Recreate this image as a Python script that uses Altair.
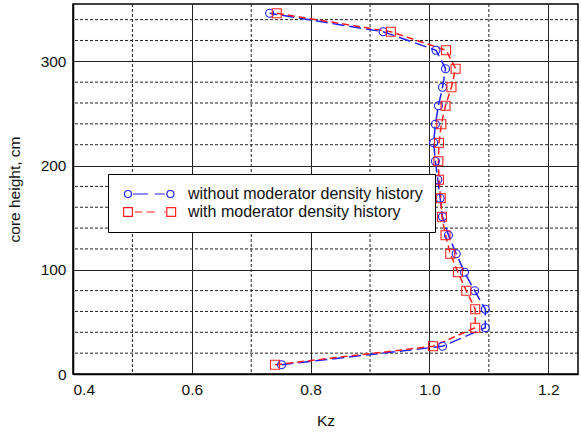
import altair as alt
import pandas as pd

# ---- data ----
heights = [8.9, 26.6, 44.4, 62.1, 79.9, 97.6, 115.4, 133.1, 150.9, 168.6,
           186.4, 204.1, 221.9, 239.6, 257.4, 275.1, 292.9, 310.6, 328.4, 346.1]
kz_without = [0.751, 1.022, 1.094, 1.094, 1.076, 1.059, 1.045, 1.032, 1.022, 1.018,
              1.014, 1.010, 1.007, 1.010, 1.015, 1.022, 1.027, 1.011, 0.922, 0.731]
kz_with = [0.740, 1.006, 1.077, 1.077, 1.062, 1.048, 1.035, 1.027, 1.021, 1.019,
           1.016, 1.015, 1.016, 1.020, 1.027, 1.037, 1.044, 1.028, 0.935, 0.743]
series_names = ["without moderator density history", "with moderator density history"]
series_colors = ["#1f1fff", "#ff2020"]

x_major = [0.4, 0.6, 0.8, 1.0, 1.2]
x_minor = [0.5, 0.7, 0.9, 1.1]
y_major = [0, 100, 200, 300]
y_minor = [20, 40, 60, 80, 120, 140, 160, 180, 220, 240, 260, 280, 320, 340]

FONT = "Liberation Sans"

rows = []
for h, a, b in zip(heights, kz_without, kz_with):
    rows.append({"height": h, "kz": a, "series": series_names[0]})
    rows.append({"height": h, "kz": b, "series": series_names[1]})
df = pd.DataFrame(rows)

xscale = alt.Scale(domain=[0.4, 1.25], nice=False, zero=False)
yscale = alt.Scale(domain=[0, 355], nice=False, zero=False)

xenc = alt.X("kz:Q", scale=xscale,
             axis=alt.Axis(values=x_major, format=".1f", title="Kz", grid=True,
                           gridColor="#222222", gridWidth=1, tickSize=0,
                           labelPadding=8, titlePadding=16))
yenc = alt.Y("height:Q", scale=yscale,
             axis=alt.Axis(values=y_major, title="core height, cm", grid=True,
                           gridColor="#222222", gridWidth=1, tickSize=0,
                           labelPadding=7, titlePadding=18))

# minor dashed grid lines
xminor_df = pd.DataFrame({"kz": x_minor})
yminor_df = pd.DataFrame({"height": y_minor})
xgrid = alt.Chart(xminor_df).mark_rule(color="#222222", strokeWidth=1, strokeDash=[3, 2]).encode(
    x=alt.X("kz:Q", scale=xscale))
ygrid = alt.Chart(yminor_df).mark_rule(color="#222222", strokeWidth=1, strokeDash=[3, 2]).encode(
    y=alt.Y("height:Q", scale=yscale))

dashes = [[12, 5], [7, 4]]
shapes = ["circle", "square"]
sizes = [64, 81]

layers = [xgrid, ygrid]
for name, col, dash in zip(series_names, series_colors, dashes):
    layers.append(
        alt.Chart(df).transform_filter(alt.datum.series == name)
        .mark_line(color=col, strokeWidth=1.5, strokeDash=dash)
        .encode(x=xenc, y=yenc, order=alt.Order("height:Q"))
    )
for name, col, shp, sz in zip(series_names, series_colors, shapes, sizes):
    layers.append(
        alt.Chart(df).transform_filter(alt.datum.series == name)
        .mark_point(shape=shp, color=col, filled=False, size=sz, strokeWidth=1.1, opacity=1)
        .encode(x=xenc, y=yenc)
    )

# legend symbols: marker - dashed line - marker
circ = lambda cx: f"M {cx-0.875} 0 A 0.875 0.875 0 1 0 {cx+0.875} 0 A 0.875 0.875 0 1 0 {cx-0.875} 0 Z "
sq = lambda cx: f"M {cx-1.1} -1.1 L {cx+1.1} -1.1 L {cx+1.1} 1.1 L {cx-1.1} 1.1 Z "
path_without = circ(0) + "M 1.25 0 L 5 0 M 6.7 0 L 9.2 0 " + circ(10.6)
path_with = sq(0) + "M 1.7 0 L 3.6 0 M 4.6 0 L 6.7 0 M 9.0 0 L 9.4 0 " + sq(10.8)

leg = alt.Legend(title=None, orient="none", legendX=35, legendY=170, direction="vertical",
                 padding=12, strokeColor="black", fillColor="white",
                 labelFont=FONT, labelFontSize=16, labelColor="#111111", labelOffset=52,
                 labelLimit=500,
                 symbolSize=64, symbolStrokeWidth=1.2, rowPadding=2, cornerRadius=0)

legend_layer = alt.Chart(df).transform_filter("false").mark_point(filled=False, opacity=1).encode(
    x=alt.X("kz:Q", scale=xscale),
    y=alt.Y("height:Q", scale=yscale),
    color=alt.Color("series:N", scale=alt.Scale(domain=series_names, range=series_colors), legend=leg),
    shape=alt.Shape("series:N", scale=alt.Scale(domain=series_names, range=[path_without, path_with]), legend=leg),
)
layers.append(legend_layer)

chart = alt.layer(*layers).properties(
    width=505, height=370,
    autosize=alt.AutoSizeParams(type="none"),
    padding={"left": 73, "top": 4, "right": 3, "bottom": 59},
    background="white",
).configure_view(stroke="black", strokeWidth=1.5).configure_axis(
    labelFont=FONT, titleFont=FONT, labelFontSize=15.5, titleFontSize=15.5,
    labelColor="#111111", titleColor="#111111", titleFontWeight="normal",
    domainColor="black", domainWidth=1.5,
)

chart.save("out.html", embed_options={"renderer": "svg", "actions": False})
